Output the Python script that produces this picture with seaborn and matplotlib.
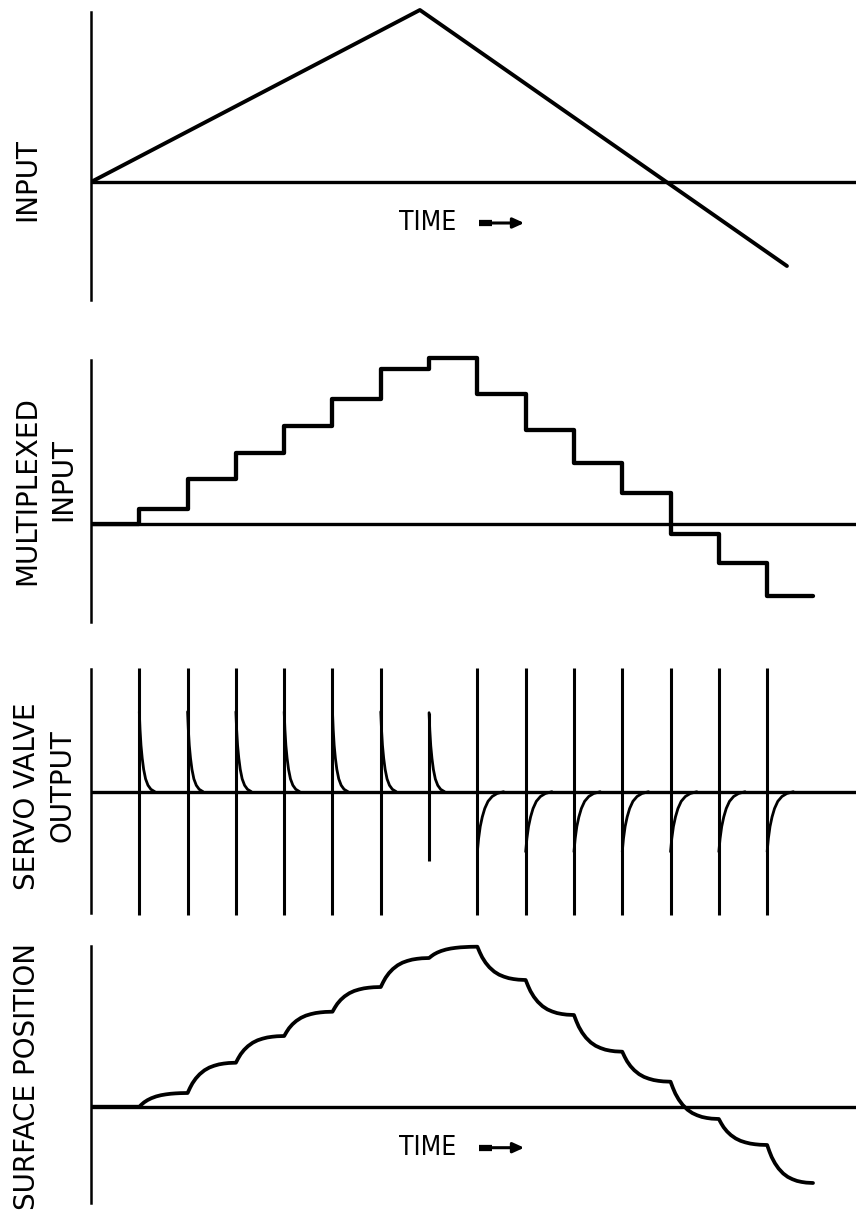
import numpy as np
import pandas as pd
import matplotlib
matplotlib.use("Agg")
import matplotlib.pyplot as plt
import seaborn as sns

# time is measured in sample periods (distance between two steps)
T_END = 15.84

# input ramp: corner points
input_t = [0.0, 6.81, 14.41]
input_v = [0.0, 172.0, -84.0]

# multiplexed input: held level for each sample period
step_t = [0, 1, 2, 3, 4, 5, 6, 7, 8, 9, 10, 11, 12, 13, 14, 14.95]
step_v = [0, 14.7, 44.7, 71.3, 98, 125, 155, 166.3, 130, 94, 60.7, 30.7,
          -10, -39.3, -72, -72]

# servo valve output: spikes at each sample and the decay after them
spike_t = [1, 2, 3, 4, 5, 6, 7, 8, 9, 10, 11, 12, 13, 14]
spike_top = [124, 124, 124, 124, 124, 124, 79, 124, 124, 124, 124, 124, 124, 124]
spike_bot = [-123, -123, -123, -123, -123, -123, -69, -123, -123, -123, -123,
             -123, -123, -123]
decay_amp = [80, 80, 80, 80, 80, 80, 79, -60, -60, -60, -60, -60, -60, -60]
decay_len = [1.0, 1.0, 1.0, 1.0, 1.0, 1.0, 1.0, 1.7, 1.7, 1.7, 1.7, 1.7,
             1.7, 1.7]
# decay shape (time after spike, fraction left)
decay_dt = [0, 0.015, 0.035, 0.06, 0.09, 0.13, 0.18, 0.24, 0.32]
decay_fr = [1.0, 0.78, 0.58, 0.42, 0.28, 0.16, 0.08, 0.03, 0.0]

# surface position: value reached at the end of each sample period
surf_t = [1, 2, 3, 4, 5, 6, 7, 8, 9, 10, 11, 12, 13, 14, 14.95]
surf_v = [0, 13.7, 44, 70.7, 95, 119.7, 148.7, 160, 126.7, 91.7, 55, 25,
          -12.3, -38.3, -76.3]
# response shape inside one period (fraction of the move completed)
resp_dt = [0, 0.05, 0.1, 0.17, 0.25, 0.35, 0.45, 0.55, 0.65, 0.75, 0.85, 1.0]
resp_fr = [0, 0.17, 0.32, 0.48, 0.62, 0.75, 0.84, 0.9, 0.945, 0.972, 0.99, 1.0]

W, H = 856, 1224
LW = 2.5


def panel(fig, top, bottom, base, ax_top, ax_bot):
    """Axes placed by pixel rows of the original sheet; y values are px above baseline."""
    ax = fig.add_axes([91 / W, 1 - bottom / H, (W - 91) / W, (bottom - top) / H])
    ax.set_xlim(0, T_END)
    ax.set_ylim(base - bottom, base - top)
    for s in ["top", "right", "bottom"]:
        ax.spines[s].set_visible(False)
    ax.spines["left"].set_color("black")
    ax.spines["left"].set_linewidth(1.8)
    ax.spines["left"].set_bounds(base - ax_bot, base - ax_top)
    ax.set_xticks([])
    ax.set_yticks([])
    ax.set_xlabel("")
    ax.set_ylabel("")
    ax.axhline(0, color="black", lw=2.4, zorder=1)
    return ax


def time_label(ax):
    ax.text(6.96, -41, "TIME", ha="center", va="center", fontsize=19,
            family="DejaVu Sans", fontstretch="condensed")
    # thick tail then a thin shaft with a filled head
    ax.plot([8.03, 8.3], [-41, -41], color="black", lw=4.5, solid_capstyle="butt")
    ax.annotate("", xy=(8.97, -41), xytext=(8.2, -41),
                arrowprops=dict(arrowstyle="-|>,head_length=0.55,head_width=0.25",
                                color="black", lw=2.2, shrinkA=0, shrinkB=0))


def main():
    sns.set_theme(style="white")
    plt.rcParams["font.family"] = ["DejaVu Sans"]
    plt.rcParams["text.color"] = "black"
    fig = plt.figure(figsize=(W / 100, H / 100), dpi=100)

    # 1. input
    ax1 = panel(fig, 0, 310, 182, 12, 300)
    sns.lineplot(x=input_t, y=input_v, ax=ax1, color="black", lw=LW + 0.3)
    time_label(ax1)

    # 2. multiplexed input
    ax2 = panel(fig, 340, 630, 524, 360, 622)
    sns.lineplot(x=step_t, y=step_v, ax=ax2, color="black", lw=LW + 0.6,
                 drawstyle="steps-post")

    # 3. servo valve output
    ax3 = panel(fig, 650, 925, 791.7, 669, 913)
    ax3.vlines(spike_t, spike_bot, spike_top, color="black", lw=2.2)
    rows = []
    for i, t0 in enumerate(spike_t):
        for dt, fr in zip(decay_dt, decay_fr):
            rows.append({"pulse": i, "t": t0 + dt * decay_len[i], "v": decay_amp[i] * fr})
    decays = pd.DataFrame(rows)
    sns.lineplot(data=decays, x="t", y="v", units="pulse", estimator=None,
                 ax=ax3, color="black", lw=2.0)

    # 4. surface position
    ax4 = panel(fig, 935, 1215, 1106.7, 946, 1203)
    xs, ys = [0.0], [0.0]
    for k in range(1, len(surf_t)):
        t0, t1 = surf_t[k - 1], surf_t[k]
        v0, v1 = surf_v[k - 1], surf_v[k]
        for dt, fr in zip(resp_dt, resp_fr):
            xs.append(t0 + dt * (t1 - t0))
            ys.append(v0 + fr * (v1 - v0))
    sns.lineplot(x=xs, y=ys, ax=ax4, color="black", lw=LW + 0.2, sort=False)
    time_label(ax4)

    # side labels
    lab = dict(rotation=90, ha="center", va="center", fontsize=20)
    fig.text(27 / W, 1 - 180 / H, "INPUT", **lab)
    fig.text(27 / W, 1 - 491 / H, "MULTIPLEXED", **lab)
    fig.text(63 / W, 1 - 480 / H, "INPUT", **lab)
    fig.text(27 / W, 1 - 796 / H, "SERVO VALVE", **lab)
    fig.text(63 / W, 1 - 786 / H, "OUTPUT", **lab)
    fig.text(27 / W, 1 - 1077 / H, "SURFACE POSITION", **lab)

    fig.savefig("out.png", dpi=100, facecolor="white")


if __name__ == "__main__":
    main()
